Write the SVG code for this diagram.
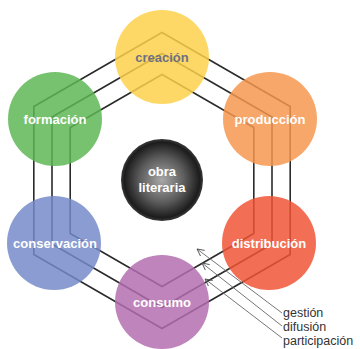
<svg xmlns="http://www.w3.org/2000/svg" width="360" height="349" viewBox="0 0 360 349">
<defs>
<radialGradient id="ball" cx="0.5" cy="0.5" r="0.5">
<stop offset="0" stop-color="#a8a8a8"/>
<stop offset="0.55" stop-color="#5c5c5c"/>
<stop offset="0.92" stop-color="#1c1c1c"/>
<stop offset="1" stop-color="#3a3a3a"/>
</radialGradient>
<marker id="ah" markerWidth="10" markerHeight="10" refX="8" refY="5" orient="auto" markerUnits="userSpaceOnUse">
<path d="M1,1.5 L8,5 L1,8.5" fill="none" stroke="#555" stroke-width="0.9"/>
</marker>
</defs>
<style>
.hex{fill:none;stroke:#2b2b2b;stroke-width:1.6}
.arr{fill:none;stroke:#666;stroke-width:0.9}
.node{fill-opacity:0.84}
.lbl{font-family:"Liberation Sans",Arial,sans-serif;font-size:13px;font-weight:bold;fill:#fff;text-anchor:middle}
.note{font-family:"Liberation Sans",Arial,sans-serif;font-size:12.5px;fill:#333}
</style>
<rect width="360" height="349" fill="#fff"/>
<g id="connectors">
<polygon class="hex" points="162,32.5 290.2,106.5 290.2,254.5 162,328.5 33.8,254.5 33.8,106.5"/>
<polygon class="hex" points="162,53.5 272,117 272,244 162,307.5 52,244 52,117"/>
<polygon class="hex" points="162,74.5 253.8,127.5 253.8,233.5 162,286.5 70.2,233.5 70.2,127.5"/>
<line class="arr" x1="282" y1="313" x2="197" y2="249" marker-end="url(#ah)"/>
<line class="arr" x1="282" y1="326" x2="202" y2="263" marker-end="url(#ah)"/>
<line class="arr" x1="282" y1="338" x2="205" y2="279" marker-end="url(#ah)"/>
</g>
<g id="creacion"><circle class="node" cx="162" cy="57" r="47" fill="#fdd04a"/><text class="lbl" x="162" y="62" style="fill:#6e7180">creación</text></g>
<g id="formacion"><circle class="node" cx="55" cy="119" r="47" fill="#5cb653"/><text class="lbl" x="55" y="124">formación</text></g>
<g id="produccion"><circle class="node" cx="270" cy="119" r="47" fill="#f5964c"/><text class="lbl" x="270" y="124">producción</text></g>
<g id="conservacion"><circle class="node" cx="54" cy="243" r="47" fill="#7389c8"/><text class="lbl" x="55" y="248">conservación</text></g>
<g id="distribucion"><circle class="node" cx="269" cy="243" r="47" fill="#ef5233"/><text class="lbl" x="269" y="248">distribución</text></g>
<g id="consumo"><circle class="node" cx="162" cy="302" r="47" fill="#b36dae"/><text class="lbl" x="162" y="307">consumo</text></g>
<g id="obra"><circle cx="162" cy="180" r="41" fill="url(#ball)"/><text class="lbl" x="162" y="176">obra</text><text class="lbl" x="162" y="192">literaria</text></g>
<g id="labels">
<text class="note" x="283" y="317">gestión</text>
<text class="note" x="283" y="331">difusión</text>
<text class="note" x="283" y="345">participación</text>
</g>
</svg>
